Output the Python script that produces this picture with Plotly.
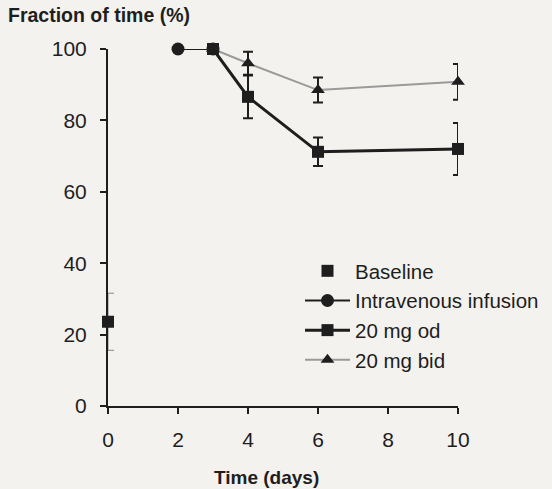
import plotly.graph_objects as go

# Data
base_x = [0]
base_y = [23.6]
base_err = [8]

iv_x = [2, 3]
iv_y = [100, 100]

od_x = [3, 4, 6, 10]
od_y = [100, 86.6, 71.2, 72.0]
od_err = [0, 6.0, 4.0, 7.3]

bid_x = [3, 4, 6, 10]
bid_y = [100, 96.0, 88.5, 90.8]
bid_err = [0, 3.2, 3.5, 5.0]

x_ticks = [0, 2, 4, 6, 8, 10]
y_ticks = [0, 20, 40, 60, 80, 100]

BG = "#f4f2ee"
INK = "#1e1e1e"
FONT = "Liberation Sans, Arial, sans-serif"

fig = go.Figure()

fig.add_trace(go.Scatter(
    x=base_x, y=base_y, mode="markers", name="Baseline",
    marker=dict(symbol="square", size=12, color=INK),
    error_y=dict(type="data", array=base_err, color="#888888", thickness=1, width=6),
    legendgroup="a", cliponaxis=False, legendrank=1,
))
fig.add_trace(go.Scatter(
    x=iv_x, y=iv_y, mode="lines+markers", name="Intravenous infusion",
    line=dict(color=INK, width=2),
    marker=dict(symbol="circle", size=13, color=INK),
    legendgroup="b", cliponaxis=False, legendrank=2,
))
fig.add_trace(go.Scatter(
    x=bid_x, y=bid_y, mode="lines+markers", name="20 mg bid",
    line=dict(color="#9a9a9a", width=2),
    marker=dict(symbol="triangle-up", size=12, color=INK),
    error_y=dict(type="data", array=bid_err, color=INK, thickness=2, width=5),
    legendgroup="d", cliponaxis=False, legendrank=4,
))
fig.add_trace(go.Scatter(
    x=od_x, y=od_y, mode="lines+markers", name="20 mg od",
    line=dict(color=INK, width=3),
    marker=dict(symbol="square", size=12, color=INK),
    error_y=dict(type="data", array=od_err, color=INK, thickness=2, width=5),
    legendgroup="c", cliponaxis=False, legendrank=3,
))

fig.update_layout(
    width=552, height=489,
    margin=dict(l=108, r=94, t=49, b=83, autoexpand=False),
    paper_bgcolor=BG, plot_bgcolor=BG,
    font=dict(family=FONT, size=21, color=INK),
    showlegend=True,
    legend=dict(
        x=(300-108)/350, y=(406-251)/357, xanchor="left", yanchor="top",
        bgcolor="rgba(0,0,0,0)", traceorder="grouped",
        tracegroupgap=0, itemwidth=45,
        font=dict(family=FONT, size=20.5, color=INK),
    ),
    xaxis=dict(
        range=[0, 10], tickvals=x_ticks, showgrid=False, zeroline=False,
        showline=True, linecolor=INK, linewidth=2,
        ticks="outside", ticklen=6, tickwidth=2, tickcolor=INK,
        ticklabelstandoff=8, automargin=False,
    ),
    yaxis=dict(
        range=[0, 100], tickvals=y_ticks, showgrid=False, zeroline=False,
        showline=True, linecolor=INK, linewidth=2,
        ticks="outside", ticklen=6, tickwidth=2, tickcolor=INK,
        ticklabelstandoff=9, automargin=False,
    ),
    annotations=[
        dict(text="<b>Fraction of time (%)</b>", xref="paper", yref="paper",
             x=-102/350, y=1 + 34/357, xanchor="left", yanchor="middle",
             showarrow=False, font=dict(size=19.5, color=INK)),
        dict(text="<b>Time (days)</b>", xref="paper", yref="paper",
             x=(266-108)/350, y=-71/357, xanchor="center", yanchor="middle",
             showarrow=False, font=dict(size=19, color=INK)),
    ],
)

fig.write_html("out.html")
